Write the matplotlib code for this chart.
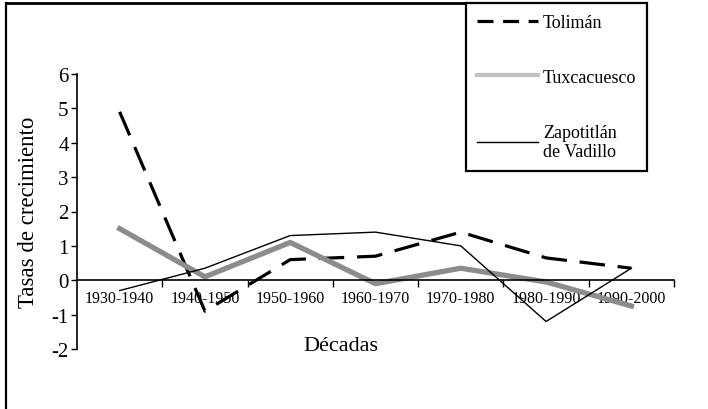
import matplotlib
matplotlib.use("Agg")
import matplotlib.pyplot as plt
from matplotlib.lines import Line2D
import numpy as np

decades = ["1930-1940", "1940-1950", "1950-1960", "1960-1970", "1970-1980", "1980-1990", "1990-2000"]
toliman = [4.9, -0.9, 0.6, 0.7, 1.4, 0.65, 0.35]
tuxcacuesco = [1.5, 0.1, 1.1, -0.1, 0.35, -0.05, -0.75]
zapotitlan = [-0.3, 0.35, 1.3, 1.4, 1.0, -1.2, 0.35]
yticks = [-2, -1, 0, 1, 2, 3, 4, 5, 6]

plt.rcParams['font.family'] = ['Liberation Serif', 'DejaVu Serif']

W, H = 708, 410
fig = plt.figure(figsize=(W / 100, H / 100), dpi=100)
ax = fig.add_axes([77 / W, 1 - 350 / H, (674 - 77) / W, (350 - 75) / H])

x = np.arange(len(decades))
l1, = ax.plot(x, toliman, color='black', lw=2.3, dashes=(8, 4), label='Tolimán')
l2, = ax.plot(x, tuxcacuesco, color='#8c8c8c', lw=3.8, label='Tuxcacuesco')
l3, = ax.plot(x, zapotitlan, color='black', lw=1.0, label='Zapotitlán\nde Vadillo')

ax.set_xlim(-0.5, len(decades) - 0.5)
ax.set_ylim(-2, 6)
ax.set_yticks(yticks)
ax.set_yticklabels([str(v) for v in yticks], fontsize=15)
ax.tick_params(axis='y', direction='out', length=4, width=1, pad=2)

ax.spines['top'].set_visible(False)
ax.spines['right'].set_visible(False)
ax.spines['bottom'].set_position(('data', 0))
ax.spines['bottom'].set_linewidth(1.2)
ax.spines['left'].set_linewidth(1.2)

ax.set_xticks(x)
ax.set_xticklabels(decades, fontsize=11.5)
ax.tick_params(axis='x', which='major', length=0, pad=7)
ax.set_xticks(np.arange(0.5, len(decades), 1.0), minor=True)
ax.tick_params(axis='x', which='minor', direction='out', length=5, width=1)

fig.text(28 / W, 1 - 212 / H, 'Tasas de crecimiento', rotation=90, ha='center', va='center', fontsize=16.5)
fig.text(341 / W, 1 - 347 / H, 'Décadas', ha='center', va='center', fontsize=16)

# outer frame (partially visible)
fig.add_artist(Line2D([6 / W, 6 / W], [0, 1 - 4 / H], color='black', lw=1.6, transform=fig.transFigure))
fig.add_artist(Line2D([6 / W, 470 / W], [1 - 4 / H, 1 - 4 / H], color='black', lw=2.0, transform=fig.transFigure))

leg = fig.legend(handles=[l1, l2, l3], loc='upper left',
                 bbox_to_anchor=(466 / W, 1 - 4 / H), bbox_transform=fig.transFigure,
                 fontsize=13, frameon=True, fancybox=False, framealpha=1,
                 handlelength=3.4, handletextpad=0.25, labelspacing=2.1,
                 borderpad=0.6, borderaxespad=0)
leg.get_frame().set_edgecolor('black')
leg.get_frame().set_linewidth(1.6)
leg.legend_handles[1].set_color('#c0c0c0')
leg.legend_handles[1].set_linewidth(3)
leg.legend_handles[0].set_dashes((5, 3))

fig.savefig('out.png', dpi=100)
